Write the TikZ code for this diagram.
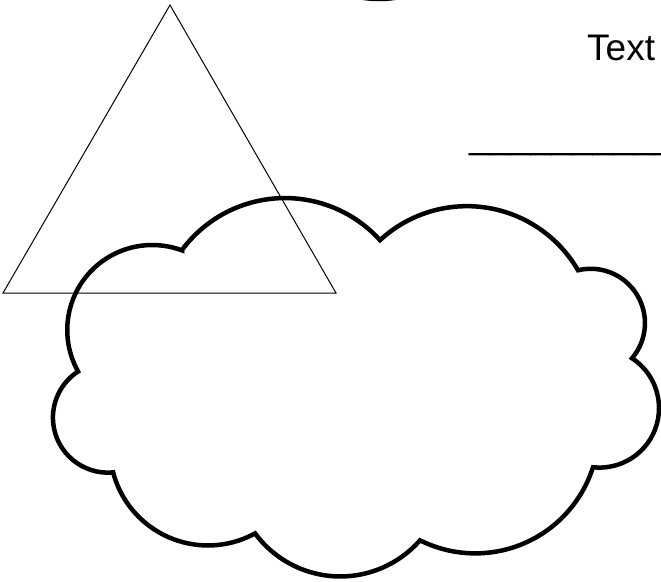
\documentclass[tikz,border=0pt]{standalone}
\usepackage{fontspec}
\setmainfont{Liberation Sans}
\usepackage{tikz}

\begin{document}
\begin{tikzpicture}[x=1pt,y=-1pt,
    thinline/.style={draw=black,line width=1pt},
    cloudline/.style={draw=black,line width=4.5pt,line join=miter},
    textlabel/.style={inner sep=0pt,anchor=base west,font=\fontsize{37}{44}\selectfont}]
    \useasboundingbox (0,0) rectangle (661,581);
    \clip (0,0) rectangle (661,581);
    % ring cut off by the top edge
    \draw[cloudline] (379,-111) circle[radius=110];
    \draw[thinline] (3,293) -- (336,293) -- (170,5) -- cycle;
    % cloud
    \coordinate (c1) at (182,250);
    \draw[cloudline] (c1)
      arc[start angle=-143.5,end angle=-42.2,radius=128.2]
      arc[start angle=-132.7,end angle=-30.0,radius=128.2]
      arc[start angle=-103.5,end angle=40.4,radius=54.3]
      arc[start angle=-56.9,end angle=96.3,radius=59.5]
      arc[start angle=17.6,end angle=116.6,radius=123.5]
      arc[start angle=41.2,end angle=143.6,radius=105.9]
      arc[start angle=61.3,end angle=165.2,radius=98.1]
      arc[start angle=84.6,end angle=237.1,radius=55.0]
      arc[start angle=150.8,end angle=290.5,radius=85.0] -- cycle;
    \node[textlabel] (txt) at (587,60) {Text};
    \node[textlabel] (blank) at (469,148) {\_\_\_\_\_\_\_\_\_\_};
\end{tikzpicture}
\end{document}
